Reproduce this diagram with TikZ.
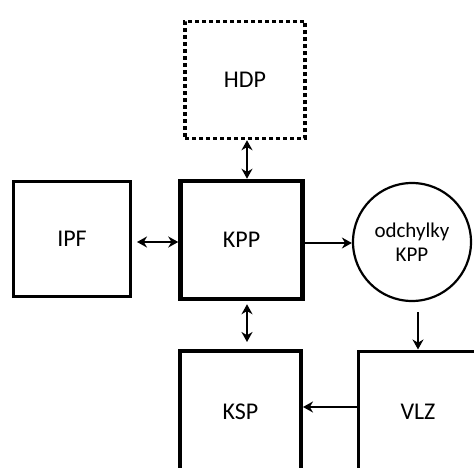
\documentclass[tikz,border=0pt]{standalone}
\usepackage{fontspec}
\setmainfont{Carlito}
\usetikzlibrary{arrows.meta}
\begin{document}
\begin{tikzpicture}[x=1pt,y=-1pt,
  box/.style={draw, rectangle, inner sep=0pt, font=\fontsize{24}{26}\selectfont},
  arr/.style={line width=2.6pt, -{Stealth[length=10pt,width=11pt]}},
  darr/.style={line width=2.6pt, {Stealth[length=10pt,width=11pt]}-{Stealth[length=10pt,width=11pt]}}]
\useasboundingbox (0,0) rectangle (474,468);
\clip (0,0) rectangle (474,468);
\node[box, line width=3.5pt, dash pattern=on 4pt off 3pt, minimum width=120pt, minimum height=117pt] (hdp) at (245,80) {HDP};
\node[box, line width=4.5pt, minimum width=122pt, minimum height=118pt] (kpp) at (241.5,240) {KPP};
\node[box, line width=3pt, minimum width=117pt, minimum height=115pt] (ipf) at (72,239) {IPF};
\node[draw, circle, line width=2.2pt, minimum size=118pt, inner sep=0pt, align=center, font=\fontsize{21}{24}\selectfont] (odch) at (412,242) {odchylky\\KPP};
\node[box, line width=4pt, minimum width=121pt, minimum height=122pt] (ksp) at (240.5,412) {KSP};
\node[box, line width=3pt, minimum width=120pt, minimum height=122pt] (vlz) at (418,412) {VLZ};
\coordinate (kppS) at ([yshift=-3pt]kpp.south -| 247,0);
\coordinate (kspN) at ([yshift=7pt]ksp.north -| 247,0);
\coordinate (ipfE) at ([xshift=5pt]ipf.east |- 0,242);
\coordinate (odS) at ([yshift=-10pt]odch.south -| 418,0);
\draw[darr] (hdp.south -| 247,0) -- (kpp.north -| 247,0);
\draw[darr] (ipfE) -- (kpp.west |- 0,242);
\draw[darr] (kppS) -- (kspN);
\draw[arr] (kpp.east |- 0,243) -- (odch.west |- 0,243);
\draw[arr] (odS) -- (vlz.north -| 418,0);
\draw[arr] (vlz.west |- 0,407) -- (ksp.east |- 0,407);
\end{tikzpicture}
\end{document}
